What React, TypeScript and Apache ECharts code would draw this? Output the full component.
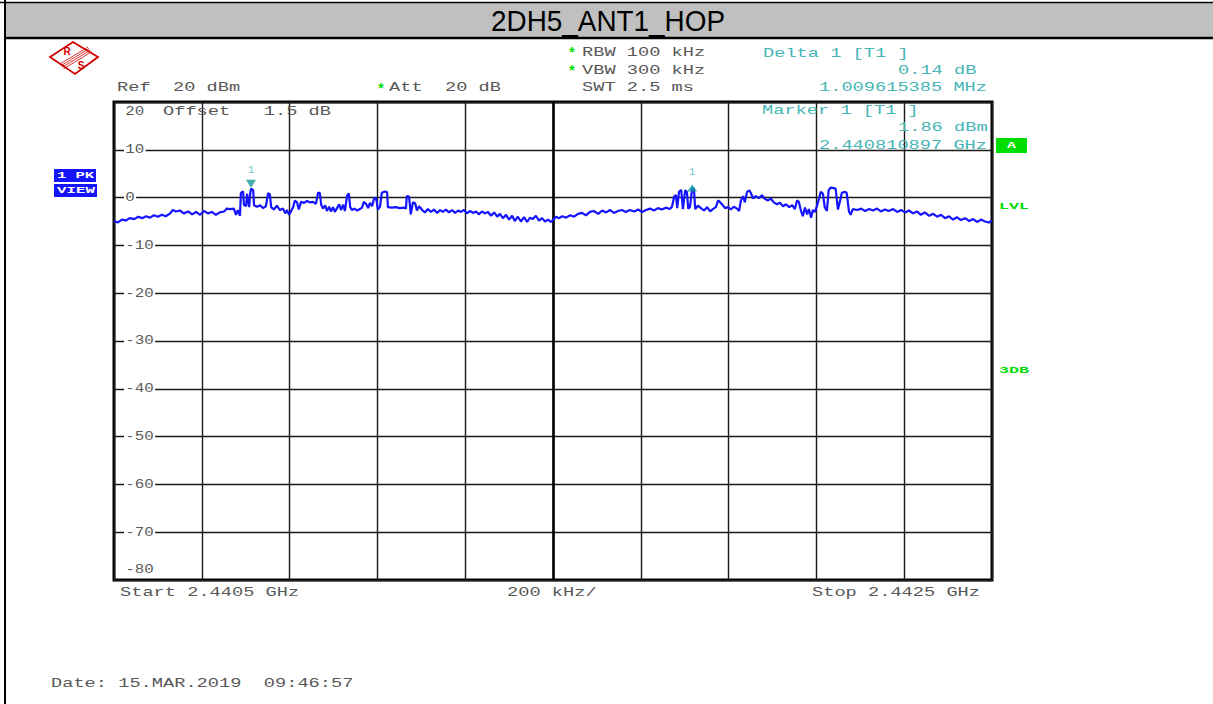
import React, { useEffect, useRef } from "react";
import * as echarts from "echarts";

// ---------- DATA ----------
const TITLE = "2DH5_ANT1_HOP";
const SPAN_KHZ = 2000;
const DIV_KHZ = 200;
const Y_MIN = -80;
const Y_MAX = 20;
const Y_STEP = 10;
const yTickValues = [20, 10, 0, -10, -20, -30, -40, -50, -60, -70, -80];

// frequency offset from start (kHz), level (dBm)
const traceKHzDbm: [number, number][] = [
  [0, -4.9], [9, -5.2], [18, -4.6], [27, -4.8], [36, -4.3], [46, -4.5], [55, -4.0], [64, -4.3],
  [73, -3.9], [82, -4.2], [91, -3.7], [100, -4.0], [109, -3.6], [118, -3.9], [128, -3.3], [134, -2.6],
  [141, -2.9], [150, -2.7], [159, -3.3], [169, -2.9], [178, -3.5], [187, -3.0], [196, -3.6], [205, -2.8],
  [214, -3.3], [223, -3.0], [232, -3.6], [241, -3.1], [251, -2.9], [257, -2.3], [264, -2.4], [273, -2.3],
  [278, -3.6], [282, -2.6], [287, -3.8], [289, 1.0], [294, 1.3], [296, -1.5], [301, -1.8], [303, 0.8],
  [308, -2.0], [310, 0.6], [312, 1.86], [317, 1.6], [319, -1.6], [326, -1.9], [333, -1.6], [339, -2.2],
  [346, -1.8], [351, 0.9], [355, 0.7], [358, -2.0], [364, -2.5], [371, -1.7], [378, -2.6], [385, -2.3],
  [390, -3.3], [394, -2.6], [399, -3.6], [403, -2.9], [408, -2.0], [412, -0.6], [417, -1.0], [421, -2.5],
  [426, -0.9], [433, -1.1], [440, -0.7], [446, -1.0], [453, -0.9], [460, -1.3], [465, 1.1], [469, 0.9],
  [472, -1.5], [476, -2.3], [481, -1.6], [485, -2.8], [490, -1.9], [494, -2.9], [499, -2.0], [503, -3.0],
  [508, -2.2], [513, -1.4], [517, -2.6], [522, -1.5], [526, -2.8], [531, 0.4], [535, 0.9], [538, -2.0],
  [542, -2.6], [547, -2.3], [554, -2.7], [560, -2.4], [565, -2.1], [569, -0.9], [574, -1.3], [579, -2.2],
  [583, -1.1], [588, -1.8], [592, -0.3], [597, 0.0], [601, -2.5], [606, -1.9], [610, 1.0], [617, 1.3],
  [622, 1.1], [624, -2.0], [633, -2.1], [642, -2.0], [651, -2.2], [661, -2.1], [665, -2.3], [667, 0.3],
  [672, 0.2], [674, -1.5], [676, -3.5], [681, -1.0], [686, -1.2], [690, -2.7], [695, -1.8], [702, -2.6],
  [708, -3.1], [715, -2.4], [722, -3.0], [729, -2.5], [736, -3.2], [743, -2.6], [749, -3.0], [756, -2.5],
  [763, -3.1], [770, -2.6], [777, -3.2], [784, -2.7], [790, -3.0], [797, -2.6], [804, -3.3], [811, -2.8],
  [818, -3.2], [825, -2.9], [831, -3.5], [838, -2.9], [845, -3.3], [852, -3.0], [859, -3.8], [866, -3.1],
  [873, -4.0], [879, -3.4], [886, -4.3], [893, -3.6], [900, -4.6], [907, -3.8], [913, -4.9], [920, -4.0],
  [927, -5.0], [934, -4.1], [941, -5.1], [948, -4.2], [954, -4.5], [961, -3.8], [968, -4.8], [975, -4.3],
  [982, -5.0], [989, -4.6], [995, -5.1], [1000, -4.7], [1007, -4.0], [1014, -4.3], [1021, -3.9], [1030, -4.2],
  [1039, -3.7], [1048, -4.0], [1057, -3.4], [1066, -3.2], [1075, -3.7], [1084, -3.0], [1093, -2.8], [1103, -3.4],
  [1112, -2.7], [1121, -3.1], [1130, -2.6], [1139, -3.2], [1148, -2.8], [1157, -2.6], [1166, -3.0], [1175, -2.6],
  [1185, -2.9], [1194, -2.5], [1203, -3.0], [1212, -2.6], [1221, -2.3], [1230, -2.7], [1239, -2.2], [1248, -2.5],
  [1257, -2.1], [1266, -2.4], [1271, -1.9], [1276, 0.2], [1280, 0.5], [1283, -2.2], [1287, 1.2], [1292, 1.6],
  [1296, -2.4], [1301, 1.5], [1305, 1.2], [1308, -2.3], [1312, -2.0], [1317, 2.0], [1321, 1.8], [1324, -2.4],
  [1330, -1.7], [1337, -2.2], [1344, -2.7], [1351, -2.0], [1358, -2.9], [1364, -2.4], [1371, -2.0], [1376, -0.6],
  [1380, -0.9], [1385, -1.4], [1392, -2.2], [1399, -2.0], [1405, -2.5], [1412, -1.9], [1419, -2.3], [1424, -2.8],
  [1428, -0.6], [1433, 0.3], [1437, -1.0], [1442, 1.2], [1447, 1.5], [1451, 0.9], [1456, -0.2], [1462, 0.3],
  [1469, -0.1], [1476, 0.5], [1483, -0.3], [1490, -0.6], [1496, -0.2], [1503, -1.0], [1510, -1.4], [1517, -1.1],
  [1524, -1.8], [1531, -1.4], [1538, -2.0], [1545, -1.6], [1551, -2.4], [1556, -0.6], [1560, -0.9], [1565, -2.8],
  [1569, -3.9], [1574, -2.1], [1579, -3.5], [1583, -2.4], [1588, -4.2], [1592, -2.6], [1597, -3.0], [1601, -1.8],
  [1606, -0.2], [1610, 1.2], [1615, 0.8], [1619, -2.0], [1624, -2.8], [1628, 1.6], [1633, 2.1], [1640, 2.0],
  [1644, 1.8], [1649, -2.5], [1653, -1.0], [1658, 1.0], [1665, 1.2], [1669, 1.0], [1674, -2.8], [1678, -3.6],
  [1683, -2.4], [1693, -2.6], [1702, -2.3], [1711, -2.8], [1720, -2.4], [1729, -2.7], [1738, -2.3], [1747, -2.9],
  [1756, -2.5], [1765, -2.8], [1775, -2.4], [1784, -3.0], [1793, -2.6], [1802, -3.1], [1811, -2.7], [1820, -3.3],
  [1829, -2.9], [1838, -3.6], [1847, -3.1], [1857, -3.8], [1866, -3.4], [1875, -4.0], [1884, -3.6], [1893, -4.3],
  [1902, -3.9], [1911, -4.6], [1920, -4.1], [1929, -4.7], [1939, -4.3], [1948, -4.9], [1957, -4.5], [1966, -5.1],
  [1975, -4.6], [1984, -5.0], [1993, -5.2], [2000, -4.8],
];

const marker1: [number, number] = [312, 1.86];
const delta1: [number, number] = [1317, 2.0];

const headerLeft = [
  { text: "Ref  20 dBm", x: 117, y: 88 },
  { text: "Att  20 dB", x: 389, y: 88 },
  { text: "RBW 100 kHz", x: 582, y: 53 },
  { text: "VBW 300 kHz", x: 582, y: 71 },
  { text: "SWT 2.5 ms", x: 582, y: 88 },
  { text: "Offset   1.5 dB", x: 163, y: 112 },
  { text: "Start 2.4405 GHz", x: 120, y: 593 },
  { text: "200 kHz/", x: 507, y: 593 },
  { text: "Stop 2.4425 GHz", x: 812, y: 593 },
  { text: "Date: 15.MAR.2019  09:46:57", x: 51, y: 684 },
];
const headerCyan = [
  { text: "Delta 1 [T1 ]", x: 763, y: 54 },
  { text: "0.14 dB", x: 898, y: 71 },
  { text: "1.009615385 MHz", x: 819, y: 88 },
  { text: "Marker 1 [T1 ]", x: 762, y: 111 },
  { text: "1.86 dBm", x: 898, y: 128 },
  { text: "2.440810897 GHz", x: 819, y: 146 },
];
const starPositions = [
  { x: 572, y: 54 },
  { x: 572, y: 72 },
  { x: 381, y: 90 },
];

// ---------- STYLE ----------
const MONO = '"Liberation Mono", "DejaVu Sans Mono", monospace';
const GREY = "#585858";
const CYAN = "#45b5b5";
const TEAL = "#119a9a";
const BLUE = "#1414ff";
const GREEN = "#00dd00";

function mono(text: string, x: number, y: number, fill: string, opts: any = {}) {
  const size = opts.size ?? 12;
  const adv = opts.adv ?? 11.2;
  return {
    type: "text",
    x,
    y,
    z: 100,
    scaleX: adv / (size * 0.6),
    style: {
      text,
      x: 0,
      y: 0,
      fill,
      font: `${opts.bold ? "bold " : ""}${size}px ${MONO}`,
      textAlign: opts.align ?? "left",
      textVerticalAlign: "middle",
      backgroundColor: opts.bg,
      padding: opts.bg ? [0, 1] : undefined,
    },
  };
}

export default function App() {
  const ref = useRef<HTMLDivElement>(null);

  useEffect(() => {
    if (!ref.current) return;
    const chart = echarts.init(ref.current, null, { renderer: "svg" });
    chart.setOption({
      animation: false,
      backgroundColor: "#ffffff",
      grid: {
        left: 114,
        top: 102,
        width: 878,
        height: 478,
        show: true,
        borderColor: "#000",
        borderWidth: 3,
        backgroundColor: "transparent",
      },
      xAxis: {
        type: "value",
        min: 0,
        max: SPAN_KHZ,
        interval: DIV_KHZ,
        axisLine: { show: false },
        axisTick: { show: false },
        axisLabel: { show: false },
        splitLine: { show: true, lineStyle: { color: "#1a1a1a", width: 1.4 } },
      },
      yAxis: {
        type: "value",
        min: Y_MIN,
        max: Y_MAX,
        interval: Y_STEP,
        axisLine: { show: false },
        axisTick: { show: false },
        axisLabel: { show: false },
        splitLine: { show: true, lineStyle: { color: "#1a1a1a", width: 1.4 } },
      },
      series: [
        {
          type: "line",
          data: traceKHzDbm,
          showSymbol: false,
          symbol: "none",
          lineStyle: { color: BLUE, width: 2.2 },
          z: 5,
          markLine: {
            silent: true,
            symbol: "none",
            label: { show: false },
            lineStyle: { color: "#000", width: 2.6, type: "solid" },
            data: [{ xAxis: SPAN_KHZ / 2 }],
            z: 3,
          },
        },
        {
          type: "scatter",
          data: [marker1],
          symbol: "triangle",
          symbolRotate: 180,
          symbolSize: [10, 8],
          symbolOffset: [0, -5],
          itemStyle: { color: TEAL },
          z: 6,
          label: {
            show: true,
            formatter: "1",
            position: "top",
            distance: 4,
            color: CYAN,
            fontFamily: MONO,
            fontSize: 11,
          },
        },
        {
          type: "scatter",
          data: [delta1],
          symbol: "triangle",
          symbolSize: [10, 7],
          symbolOffset: [0, 0],
          itemStyle: { color: TEAL },
          z: 6,
          label: {
            show: true,
            formatter: "1",
            position: "top",
            distance: 7,
            color: CYAN,
            fontFamily: MONO,
            fontSize: 11,
          },
        },
      ],
    });

    const elements: any[] = [];
    // title bar
    elements.push({
      type: "rect",
      shape: { x: 5, y: 3, width: 1213, height: 35 },
      style: { fill: "#c0c0c0" },
      z: 50,
    });
    elements.push({ type: "line", shape: { x1: 0, y1: 2.5, x2: 1213, y2: 2.5 }, style: { stroke: "#000", lineWidth: 1.5 }, z: 51 });
    elements.push({ type: "line", shape: { x1: 5, y1: 38, x2: 1213, y2: 38 }, style: { stroke: "#000", lineWidth: 2.5 }, z: 51 });
    elements.push({ type: "line", shape: { x1: 5, y1: 0, x2: 5, y2: 704 }, style: { stroke: "#000", lineWidth: 2 }, z: 51 });
    elements.push({
      type: "text",
      x: 608,
      y: 21,
      z: 100,
      scaleX: 0.93,
      style: {
        text: TITLE,
        x: 0,
        y: 0,
        fill: "#000",
        font: '30px "Liberation Sans", Arial, sans-serif',
        textAlign: "center",
        textVerticalAlign: "middle",
      },
    });

    // R&S logo
    elements.push({
      type: "polygon",
      shape: { points: [[50, 57], [73, 42], [98, 57], [75, 74]] },
      style: { fill: "none", stroke: "#d00000", lineWidth: 1.8 },
      z: 100,
    });
    for (let i = 0; i < 4; i++) {
      elements.push({
        type: "line",
        shape: { x1: 60 + i * 1.2, y1: 64 + i * 1.6, x2: 88 + i * 1.2, y2: 47 + i * 1.6 },
        style: { stroke: "#d00000", lineWidth: 0.8 },
        z: 100,
      });
    }
    elements.push({ type: "text", x: 67, y: 51, z: 100, style: { text: "R", fill: "#d00000", font: 'bold 10px "Liberation Sans", sans-serif', textAlign: "center", textVerticalAlign: "middle" } });
    elements.push({ type: "text", x: 81, y: 65, z: 100, style: { text: "S", fill: "#d00000", font: 'bold 10px "Liberation Sans", sans-serif', textAlign: "center", textVerticalAlign: "middle" } });

    // header texts
    headerLeft.forEach((t) => elements.push(mono(t.text, t.x, t.y, GREY)));
    headerCyan.forEach((t) => elements.push(mono(t.text, t.x, t.y, CYAN)));
    starPositions.forEach((p) =>
      elements.push({
        type: "text",
        x: p.x,
        y: p.y,
        z: 100,
        style: { text: "*", fill: GREEN, font: `bold 14px ${MONO}`, textAlign: "center", textVerticalAlign: "middle" },
      })
    );

    // y tick labels via the axis scale
    yTickValues.forEach((v) => {
      const py = chart.convertToPixel({ yAxisIndex: 0 }, v) as number;
      let y = py;
      if (v === Y_MAX) y = py + 10;
      if (v === Y_MIN) y = py - 10;
      elements.push(mono(String(v), 124, y, "#5a5a5a", { adv: 9.5, bg: "#ffffff" }));
    });

    // left side boxes
    elements.push({ type: "rect", shape: { x: 54, y: 169, width: 42, height: 13 }, style: { fill: BLUE }, z: 100 });
    elements.push({ type: "rect", shape: { x: 54, y: 184, width: 43, height: 13 }, style: { fill: BLUE }, z: 100 });
    elements.push(mono("1 PK", 57, 176, "#fff", { size: 9, adv: 9.3, bold: true }));
    elements.push(mono("VIEW", 57, 191, "#fff", { size: 9, adv: 9.5, bold: true }));

    // right side labels
    elements.push({ type: "rect", shape: { x: 996, y: 138, width: 31, height: 15 }, style: { fill: GREEN }, z: 100 });
    elements.push(mono("A", 1011.5, 146, "#fff", { size: 9, adv: 9, bold: true, align: "center" }));
    elements.push(mono("LVL", 999, 207, GREEN, { size: 9, adv: 10, bold: true }));
    elements.push(mono("3DB", 999, 371, GREEN, { size: 9, adv: 10, bold: true }));

    chart.setOption({ graphic: { elements } });

    return () => chart.dispose();
  }, []);

  return (
    <div
      ref={ref}
      style={{ position: "fixed", left: 0, top: 0, width: 1213, height: 704, background: "#fff" }}
    />
  );
}
